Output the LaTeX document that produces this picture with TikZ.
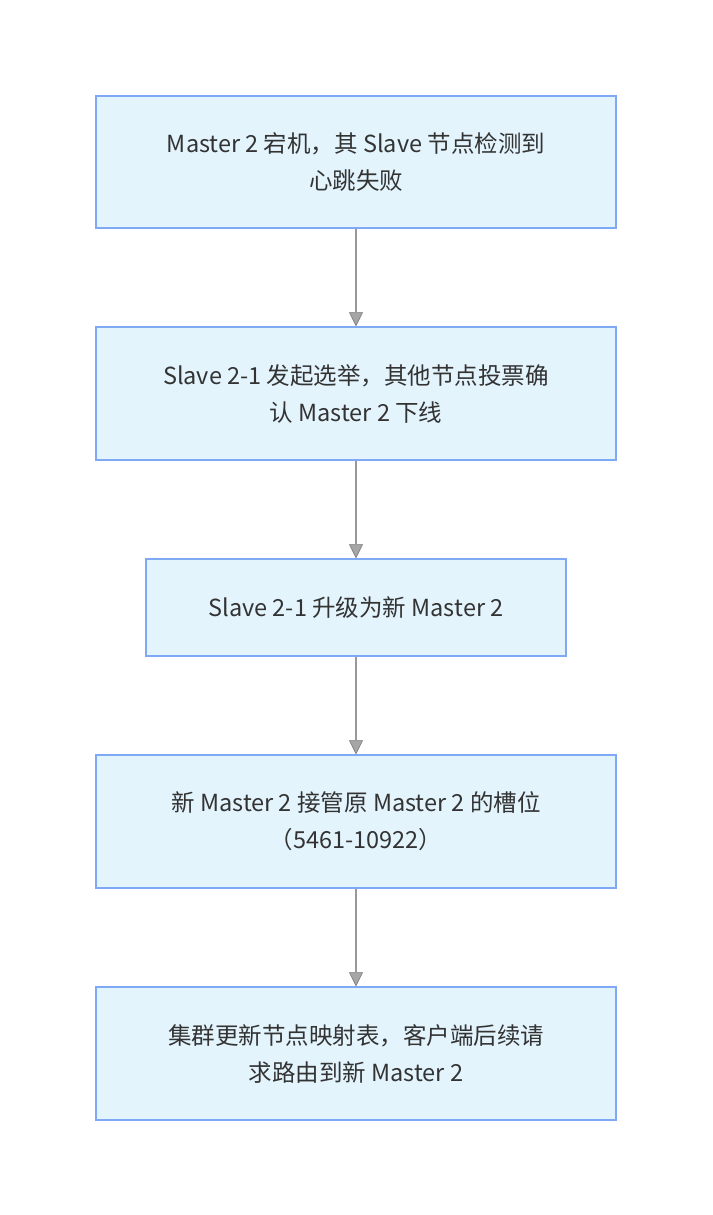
\documentclass[tikz,border=0pt]{standalone}
\usepackage{fontspec}
\setmainfont{Noto Sans CJK SC}
\usetikzlibrary{arrows.meta}
\definecolor{boxfill}{HTML}{E3F4FD}
\definecolor{boxdraw}{HTML}{7FA8F5}
\definecolor{txt}{HTML}{333333}
\definecolor{arr}{HTML}{999999}
\definecolor{arrfill}{HTML}{A6A6A6}
\definecolor{arrline}{HTML}{777777}
\begin{document}
\begin{tikzpicture}[x=1pt,y=-1pt,
  stepbox/.style={draw=boxdraw,fill=boxfill,line width=1.5pt,text=txt,font=\fontsize{23.5}{37}\selectfont,align=center,inner sep=0pt},
  conn/.style={draw=arr,line width=1.3pt,-{Triangle[length=14pt,width=14pt,color=arrline,fill=arrfill,line width=0.6pt]}}]
\useasboundingbox (0,0) rectangle (712,1215);
\fill[white] (0,0) rectangle (712,1215);
\node[stepbox,minimum width=520pt,minimum height=132pt] (b1) at (356,162) {Master 2 宕机，其 Slave 节点检测到\\心跳失败};
\node[stepbox,minimum width=520pt,minimum height=133pt] (b2) at (356,393.5) {Slave 2-1 发起选举，其他节点投票确\\认 Master 2 下线};
\node[stepbox,minimum width=420pt,minimum height=97pt] (b3) at (356,607.5) {Slave 2-1 升级为新 Master 2};
\node[stepbox,minimum width=520pt,minimum height=133pt] (b4) at (356,821.5) {新 Master 2 接管原 Master 2 的槽位\\（5461-10922）};
\node[stepbox,minimum width=520pt,minimum height=133pt] (b5) at (356,1053.5) {集群更新节点映射表，客户端后续请\\求路由到新 Master 2};
\draw[conn] (b1.south) -- (b2.north);
\draw[conn] (b2.south) -- (b3.north);
\draw[conn] (b3.south) -- (b4.north);
\draw[conn] (b4.south) -- (b5.north);
\end{tikzpicture}
\end{document}
